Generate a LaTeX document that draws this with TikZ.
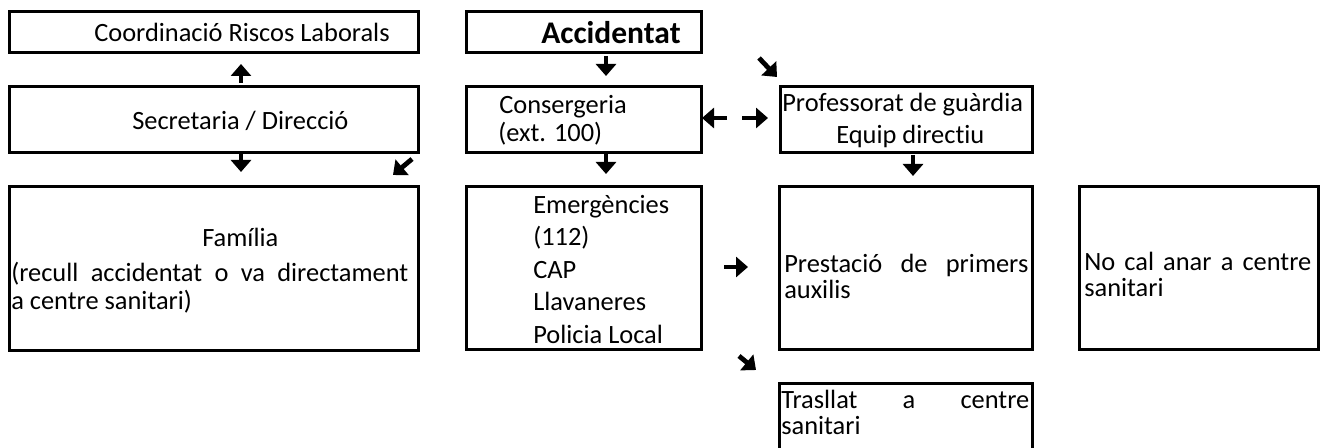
\documentclass[tikz,border=0pt]{standalone}
\usepackage{fontspec}
\setmainfont{Carlito}[Ligatures=NoCommon]
\usetikzlibrary{positioning,arrows.meta}

\begin{document}
\begin{tikzpicture}[x=0.5pt,y=-0.5pt,
  every node/.style={font=\fontsize{13.2pt}{13pt}\selectfont},
  box/.style={draw,line width=1.3pt,anchor=north west,inner xsep=1pt,
    inner ysep=0pt,align=left,
    execute at begin node={\spaceskip=0pt\xspaceskip=0pt}},
  glyph/.style={line width=2.4pt,-{Triangle[width=10pt,length=6pt]}}]
  \useasboundingbox (0,0) rectangle (1321,448);
  % left column
  \node[box,text width=202.5pt,text height=15pt,text depth=5.5pt] (coord) at (8,10)
    {\hspace*{41.5pt}Coordinació Riscos Laborals};
  \node[box,text width=202.5pt,text height=21.5pt,text depth=11.5pt] (sec) at (8,85)
    {\hspace*{60.5pt}Secretaria / Direcció};
  \node[box,text width=202.5pt,text height=30pt,text depth=52pt,
    font=\fontsize{13.2pt}{14pt}\selectfont] (fam) at (8,185)
    {\hspace*{95.5pt}Família\\[3.5pt]
     \makebox[198.5pt][s]{(recull accidentat o va directament}\\
     a centre sanitari)};
  % middle column
  \node[box,text width=115.5pt,text height=16pt,text depth=4.5pt,
    font=\fontsize{15.75pt}{18pt}\selectfont\bfseries] (acc) at (465,10)
    {\hspace*{36.5pt}Accidentat};
  \node[box,text width=115.5pt,text height=13.5pt,text depth=19.5pt,
    font=\fontsize{13.2pt}{14pt}\selectfont] (cons) at (465,85)
    {\hspace*{15.5pt}Consergeria\\\hspace*{15pt}(ext. 100)};
  \node[box,text width=115.5pt,text height=13.5pt,text depth=68pt,
    font=\fontsize{13.2pt}{16.25pt}\selectfont] (emer) at (465,185)
    {\hspace*{32.5pt}Emergències\\\hspace*{32.5pt}(112)\\\hspace*{32.5pt}CAP\\
     \hspace*{32.5pt}Llavaneres\\\hspace*{32.5pt}Policia Local};
  % right columns
  \node[box,text width=124pt,text height=12.5pt,text depth=20.5pt,
    font=\fontsize{13.2pt}{16pt}\selectfont] (prof) at (779,85)
    {Professorat de guàrdia\\\hspace*{27pt}Equip directiu};
  \node[box,text width=124.5pt,text height=43pt,text depth=38.5pt] (prest) at (778,185)
    {\hspace*{1.5pt}\makebox[122pt][s]{Prestació de primers}\\\hspace*{1.5pt}auxilis};
  \node[box,text width=117.5pt,text height=42pt,text depth=39.5pt] (nocal) at (1078,185)
    {\hspace*{1.5pt}\makebox[113.5pt][s]{No cal anar a centre}\\\hspace*{1.5pt}sanitari};
  \node[box,text width=124.5pt,text height=12.5pt,text depth=40pt] (trasl) at (778,382)
    {\makebox[124pt][s]{Trasllat a centre}\\sanitari};
  % arrows
  \foreach \nm/\xa/\ya/\xb/\yb in {
    secup/241/83/241/64, secdn/241/153/241/172, secdg/412/159/393/175,
    accdn/606/56/606/76, accdg/759/58/777/77,
    consl/727/118/702/118, consr/742/118/768/118,
    consdn/606/153/606/174, profdn/913/155/913/176,
    emerr/724/267/748/267, emerdg/739/356/756/370}
  {\coordinate (\nm0) at (\xa,\ya);
   \coordinate (\nm1) at (\xb,\yb);
   \draw[glyph] (\nm0) -- (\nm1);}
\end{tikzpicture}
\end{document}
